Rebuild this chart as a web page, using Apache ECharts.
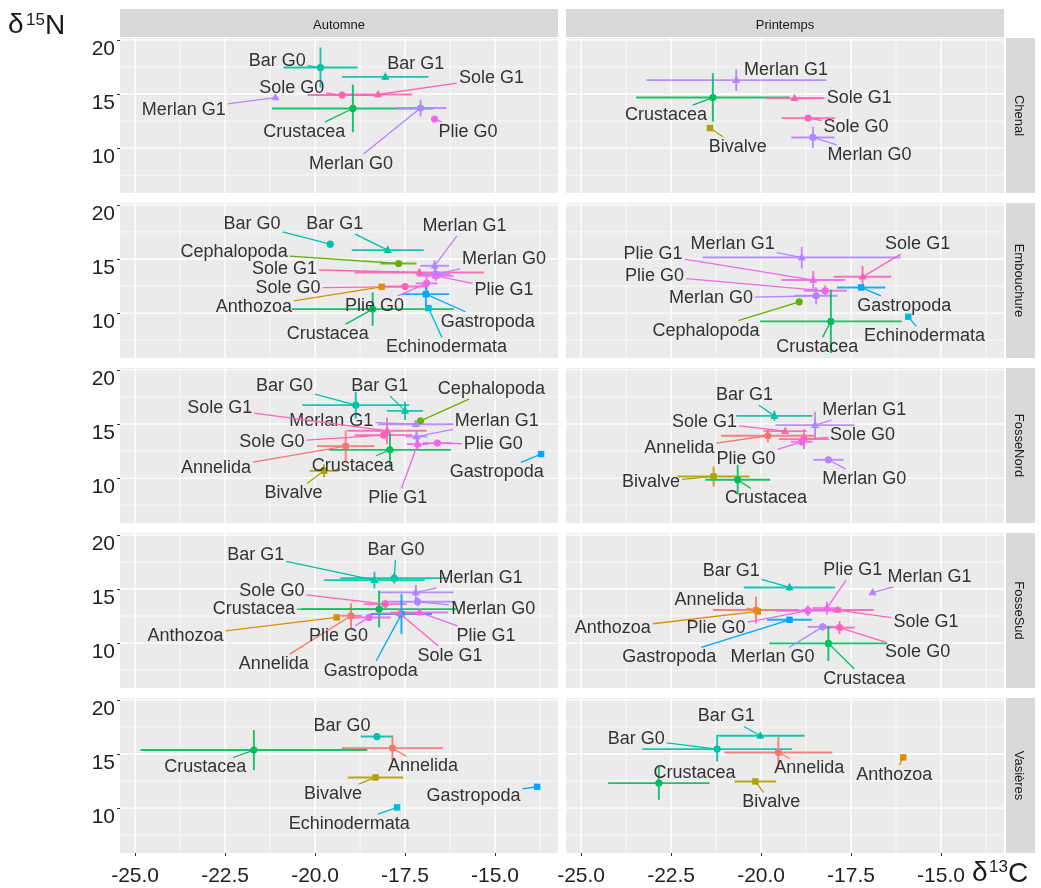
<!DOCTYPE html>
<html>
<head>
<meta charset="utf-8">
<title>δ13C / δ15N par site et saison</title>
<script src="https://cdn.jsdelivr.net/npm/echarts@6/dist/echarts.min.js"></script>
<style>
  html, body { margin: 0; padding: 0; background: #ffffff; }
  #chart { width: 1041px; height: 888px; }
</style>
</head>
<body>
<div id="chart"></div>
<script>
// ---- facets -------------------------------------------------------------
const seasons = ['Automne', 'Printemps'];
const sites = ['Chenal', 'Embouchure', 'FosseNord', 'FosseSud', 'Vasières'];

// ---- axis breaks ---------------------------------------------------------
const xTicks = [-25, -22.5, -20, -17.5, -15];
const xMinorTicks = [-23.75, -21.25, -18.75, -16.25, -13.75];
const yTicks = [10, 15, 20];
const yMinorTicks = [7.5, 12.5, 17.5];

// ---- values: [groupe, δ13C moyen, δ15N moyen, écart-type δ13C, écart-type δ15N]
const chenalAutomne = [
  ['Bar G0', -19.85, 17.44, 1.03, 1.85],
  ['Bar G1', -18.05, 16.58, 1.20, 0.25],
  ['Sole G0', -19.25, 14.90, 0.95, 0.30],
  ['Sole G1', -18.25, 14.95, 0.95, 0.30],
  ['Crustacea', -18.95, 13.66, 2.25, 2.20],
  ['Merlan G0', -17.07, 13.70, 0.72, 0.77],
  ['Merlan G1', -21.10, 14.67, 0, 0],
  ['Plie G0', -16.68, 12.68, 0, 0]
];
const chenalPrintemps = [
  ['Merlan G1', -20.69, 16.28, 2.50, 1.00],
  ['Crustacea', -21.34, 14.67, 2.13, 2.23],
  ['Sole G1', -19.07, 14.60, 0.80, 0.25],
  ['Sole G0', -18.69, 12.77, 0.74, 0.25],
  ['Bivalve', -21.42, 11.85, 0, 0],
  ['Merlan G0', -18.56, 10.98, 0.60, 1.00]
];
const embouchureAutomne = [
  ['Bar G0', -19.58, 16.37, 0, 0],
  ['Bar G1', -17.98, 15.82, 1.00, 0.30],
  ['Cephalopoda', -17.68, 14.58, 0.50, 0.20],
  ['Merlan G1', -16.68, 14.37, 0.40, 0.50],
  ['Merlan G0', -16.65, 13.60, 0.40, 0.60],
  ['Sole G1', -17.10, 13.75, 1.80, 0.30],
  ['Plie G1', -16.65, 13.44, 0.50, 0.40],
  ['Sole G0', -17.50, 12.45, 0.60, 0.30],
  ['Plie G0', -16.90, 12.75, 0.30, 0.80],
  ['Anthozoa', -18.15, 12.43, 0, 0],
  ['Gastropoda', -16.92, 11.75, 0.65, 1.15],
  ['Echinodermata', -16.85, 10.46, 0, 0],
  ['Crustacea', -18.40, 10.37, 2.25, 1.54]
];
const embouchurePrintemps = [
  ['Merlan G1', -18.87, 15.13, 2.75, 1.00],
  ['Plie G1', -18.55, 13.05, 0.88, 0.85],
  ['Plie G0', -18.22, 12.06, 0.60, 0.50],
  ['Merlan G0', -18.47, 11.60, 0.60, 0.80],
  ['Sole G1', -17.18, 13.35, 0.80, 1.00],
  ['Gastropoda', -17.22, 12.37, 0.67, 0.20],
  ['Cephalopoda', -18.94, 11.04, 0, 0],
  ['Crustacea', -18.06, 9.23, 1.97, 2.92],
  ['Echinodermata', -15.91, 9.66, 0, 0]
];
const fosseNordAutomne = [
  ['Bar G0', -18.87, 16.74, 1.48, 1.23],
  ['Bar G1', -17.50, 16.21, 0.50, 0.85],
  ['Cephalopoda', -17.07, 15.29, 0, 0],
  ['Merlan G1', -17.20, 14.98, 1.05, 0.30],
  ['Merlan G1', -17.18, 13.84, 0.30, 0.60],
  ['Sole G1', -18.00, 14.37, 1.10, 1.23],
  ['Sole G0', -18.10, 13.97, 0.80, 0.30],
  ['Annelida', -19.15, 12.95, 0.80, 1.46],
  ['Plie G0', -16.60, 13.23, 0.40, 0.20],
  ['Plie G1', -17.15, 13.14, 0.30, 0.50],
  ['Crustacea', -17.92, 12.61, 1.70, 1.54],
  ['Gastropoda', -13.72, 12.22, 0, 0],
  ['Bivalve', -19.75, 10.67, 0.40, 0.60]
];
const fosseNordPrintemps = [
  ['Bar G1', -19.63, 15.75, 1.06, 0.46],
  ['Merlan G1', -18.50, 14.89, 1.10, 1.23],
  ['Sole G1', -19.33, 14.34, 0.60, 0.23],
  ['Sole G0', -18.81, 13.60, 0.70, 0.92],
  ['Annelida', -19.81, 13.91, 1.30, 0.62],
  ['Plie G0', -18.87, 13.35, 0.30, 0.30],
  ['Merlan G0', -18.13, 11.69, 0.42, 0.20],
  ['Bivalve', -21.32, 10.15, 1.00, 0.92],
  ['Crustacea', -20.65, 9.84, 0.90, 1.38]
];
const fosseSudAutomne = [
  ['Bar G1', -18.35, 15.82, 1.40, 0.77],
  ['Bar G0', -17.80, 16.00, 1.50, 0.50],
  ['Merlan G1', -17.20, 14.68, 1.05, 0.70],
  ['Merlan G0', -17.15, 13.82, 1.00, 0.40],
  ['Sole G0', -18.05, 13.60, 0.60, 0.40],
  ['Crustacea', -18.22, 13.14, 2.15, 1.70],
  ['Plie G1', -17.10, 12.83, 0.80, 0.30],
  ['Annelida', -19.00, 12.52, 0.30, 1.15],
  ['Plie G0', -18.50, 12.37, 0.60, 0.30],
  ['Anthozoa', -19.40, 12.37, 0, 0],
  ['Gastropoda', -17.60, 12.68, 0.85, 1.85],
  ['Sole G1', -17.65, 12.74, 0.70, 0.30]
];
const fosseSudPrintemps = [
  ['Bar G1', -19.21, 15.14, 1.27, 0.30],
  ['Plie G1', -18.17, 13.23, 0.40, 0.60],
  ['Merlan G1', -16.90, 14.67, 0, 0],
  ['Annelida', -20.14, 13.05, 1.20, 1.23],
  ['Anthozoa', -20.09, 12.93, 0, 0],
  ['Sole G1', -17.87, 13.05, 1.00, 0.25],
  ['Plie G0', -18.70, 12.99, 0.90, 0.50],
  ['Gastropoda', -19.21, 12.15, 0.62, 0.20],
  ['Merlan G0', -18.29, 11.50, 0.42, 0.30],
  ['Sole G0', -17.82, 11.43, 0.42, 0.60],
  ['Crustacea', -18.13, 9.97, 1.64, 1.62]
];
const vasieresAutomne = [
  ['Crustacea', -21.70, 15.36, 3.15, 1.85],
  ['Bar G0', -18.28, 16.61, 0.45, 0.30],
  ['Annelida', -17.85, 15.54, 1.40, 1.15],
  ['Bivalve', -18.32, 12.83, 0.77, 0.25],
  ['Gastropoda', -13.83, 11.97, 0, 0],
  ['Echinodermata', -17.72, 10.06, 0, 0]
];
const vasieresPrintemps = [
  ['Bar G1', -20.02, 16.68, 1.23, 0.30],
  ['Bar G0', -21.22, 15.45, 2.08, 1.15],
  ['Annelida', -19.52, 15.14, 1.50, 1.46],
  ['Anthozoa', -16.05, 14.68, 0, 0],
  ['Crustacea', -22.84, 12.31, 1.41, 1.54],
  ['Bivalve', -20.16, 12.46, 0.58, 0]
];

// ---- where each repelled label sits, in axis units (same order as the rows)
const labelSpots = {
  'Chenal/Automne': [[-21.05, 18.06], [-17.2, 17.75], [-20.65, 15.54], [-15.1, 16.46], [-20.3, 11.5], [-19.0, 8.52], [-23.65, 13.54], [-15.75, 11.5]],
  'Chenal/Printemps': [[-19.31, 17.2], [-22.64, 13.05], [-17.27, 14.67], [-17.36, 11.97], [-20.65, 10.12], [-16.99, 9.38]],
  'Embouchure/Automne': [[-21.75, 18.22], [-19.45, 18.22], [-22.25, 15.6], [-15.85, 18.06], [-14.75, 14.98], [-20.85, 14.06], [-14.75, 12.15], [-20.75, 12.31], [-18.35, 10.67], [-21.7, 10.52], [-15.2, 9.2], [-16.35, 6.83], [-19.65, 8.06]],
  'Embouchure/Printemps': [[-20.79, 16.37], [-23.0, 15.45], [-22.96, 13.44], [-21.39, 11.38], [-15.65, 16.37], [-16.02, 10.67], [-21.53, 8.37], [-18.44, 6.83], [-15.46, 7.84]],
  'FosseNord/Automne': [[-20.85, 18.52], [-18.2, 18.52], [-15.1, 18.21], [-19.55, 15.29], [-14.95, 15.29], [-22.65, 16.43], [-21.2, 13.29], [-22.75, 10.89], [-15.05, 13.1], [-17.7, 8.12], [-18.95, 11.14], [-14.95, 10.52], [-20.6, 8.58]],
  'FosseNord/Printemps': [[-20.46, 17.66], [-17.13, 16.28], [-21.57, 15.2], [-17.18, 13.97], [-22.27, 12.73], [-20.42, 11.75], [-17.13, 9.91], [-23.06, 9.6], [-19.86, 8.12]],
  'FosseSud/Automne': [[-21.65, 18.15], [-17.75, 18.59], [-15.4, 16.0], [-15.05, 13.14], [-21.2, 14.83], [-21.7, 13.14], [-15.25, 10.67], [-21.15, 8.06], [-19.35, 10.67], [-23.6, 10.67], [-18.45, 7.44], [-16.25, 8.83]],
  'FosseSud/Printemps': [[-20.83, 16.68], [-17.45, 16.74], [-15.32, 16.12], [-21.43, 13.97], [-24.12, 11.35], [-15.42, 11.9], [-21.25, 11.38], [-22.55, 8.67], [-19.68, 8.67], [-15.65, 9.14], [-17.13, 6.7]],
  'Vasières/Automne': [[-23.05, 13.75], [-19.25, 17.6], [-17.0, 13.84], [-19.5, 11.29], [-15.6, 11.14], [-19.05, 8.52]],
  'Vasières/Printemps': [[-20.97, 18.46], [-23.47, 16.37], [-18.66, 13.66], [-16.3, 13.05], [-21.85, 13.23], [-19.72, 10.52]]
};

const panelRows = {
  'Chenal/Automne': chenalAutomne, 'Chenal/Printemps': chenalPrintemps,
  'Embouchure/Automne': embouchureAutomne, 'Embouchure/Printemps': embouchurePrintemps,
  'FosseNord/Automne': fosseNordAutomne, 'FosseNord/Printemps': fosseNordPrintemps,
  'FosseSud/Automne': fosseSudAutomne, 'FosseSud/Printemps': fosseSudPrintemps,
  'Vasières/Automne': vasieresAutomne, 'Vasières/Printemps': vasieresPrintemps
};

// ---- styling -------------------------------------------------------------
const taxonColors = {
  Annelida: '#F8766D', Anthozoa: '#DB8E00', Bivalve: '#AEA200', Cephalopoda: '#64B200',
  Crustacea: '#00BD5C', Bar: '#00C1A7', Echinodermata: '#00BADE', Gastropoda: '#00A6FF',
  Merlan: '#B385FF', Plie: '#EF67EB', Sole: '#FF63B6'
};
const squareTaxa = new Set(['Anthozoa', 'Bivalve', 'Echinodermata', 'Gastropoda']);
const FONT = '"Liberation Sans", Arial, Helvetica, sans-serif';
const LABEL_SIZE = 18;
const X_MIN = -25.42, X_MAX = -13.25, Y_MIN = 5.85, Y_MAX = 20.17;
const colLeft = [120, 566];
const rowTop = [38, 203, 368, 533, 698];
const PANEL_W = 438, PANEL_H = 155;

const taxonOf = name => name.split(' ')[0];
const colorOf = name => taxonColors[taxonOf(name)] || '#666';

const measureCtx = document.createElement('canvas').getContext('2d');
measureCtx.font = LABEL_SIZE + 'px ' + FONT;
const textWidth = s => measureCtx.measureText(s).width;

// white panel grid, drawn through each panel's own scales
function renderGridLines(params, api) {
  const cs = params.coordSys;
  const children = [];
  const vLine = (v, w) => {
    const px = api.coord([v, 10])[0];
    children.push({ type: 'line', shape: { x1: px, y1: cs.y, x2: px, y2: cs.y + cs.height }, style: { stroke: '#ffffff', lineWidth: w } });
  };
  const hLine = (v, w) => {
    const py = api.coord([-20, v])[1];
    children.push({ type: 'line', shape: { x1: cs.x, y1: py, x2: cs.x + cs.width, y2: py }, style: { stroke: '#ffffff', lineWidth: w } });
  };
  xMinorTicks.forEach(v => vLine(v, 0.7));
  yMinorTicks.forEach(v => hLine(v, 0.7));
  xTicks.forEach(v => vLine(v, 1.4));
  yTicks.forEach(v => hLine(v, 1.4));
  return { type: 'group', children };
}

// horizontal and vertical standard-deviation bars
function makeBarRenderer(rows) {
  return function (params, api) {
    const name = rows[params.dataIndex][0];
    const color = colorOf(name);
    const x = api.value(0), y = api.value(1), sx = api.value(2), sy = api.value(3);
    const children = [];
    if (sx > 0) {
      const a = api.coord([x - sx, y]), b = api.coord([x + sx, y]);
      children.push({ type: 'line', shape: { x1: a[0], y1: a[1], x2: b[0], y2: b[1] }, style: { stroke: color, lineWidth: 1.9, opacity: 0.9 } });
    }
    if (sy > 0) {
      const a = api.coord([x, y - sy]), b = api.coord([x, y + sy]);
      children.push({ type: 'line', shape: { x1: a[0], y1: a[1], x2: b[0], y2: b[1] }, style: { stroke: color, lineWidth: 1.9, opacity: 0.9 } });
    }
    return { type: 'group', children };
  };
}

// mean point: circle (G0 / default), triangle (G1), square (some taxa)
function makePointRenderer(rows) {
  return function (params, api) {
    const name = rows[params.dataIndex][0];
    const color = colorOf(name);
    const c = api.coord([api.value(0), api.value(1)]);
    if (/G1$/.test(name)) {
      return { type: 'polygon', shape: { points: [[c[0], c[1] - 4.6], [c[0] - 4.1, c[1] + 2.8], [c[0] + 4.1, c[1] + 2.8]] }, style: { fill: color } };
    }
    if (squareTaxa.has(taxonOf(name))) {
      return { type: 'rect', shape: { x: c[0] - 3.2, y: c[1] - 3.2, width: 6.4, height: 6.4 }, style: { fill: color } };
    }
    return { type: 'circle', shape: { cx: c[0], cy: c[1], r: 3.6 }, style: { fill: color } };
  };
}

// text label plus a leader segment from the point to the label box
function makeLabelRenderer(rows) {
  return function (params, api) {
    const name = rows[params.dataIndex][0];
    const color = colorOf(name);
    const p = api.coord([api.value(0), api.value(1)]);
    const c = api.coord([api.value(2), api.value(3)]);
    const hw = textWidth(name) / 2 + 2, hh = 10;
    const children = [];
    const dx = p[0] - c[0], dy = p[1] - c[1];
    if (Math.abs(dx) > hw || Math.abs(dy) > hh) {
      const s = Math.min(dx !== 0 ? hw / Math.abs(dx) : Infinity, dy !== 0 ? hh / Math.abs(dy) : Infinity);
      const ex = c[0] + dx * s, ey = c[1] + dy * s;
      if (Math.hypot(p[0] - ex, p[1] - ey) > 7) {
        children.push({ type: 'line', shape: { x1: p[0], y1: p[1], x2: ex, y2: ey }, style: { stroke: color, lineWidth: 1.3 } });
      }
    }
    children.push({
      type: 'text', x: c[0], y: c[1],
      style: { text: name, fill: '#333333', fontSize: LABEL_SIZE, fontFamily: FONT, align: 'center', verticalAlign: 'middle' }
    });
    return { type: 'group', children };
  };
}

// ---- assemble the facet grid ----------------------------------------------
const grids = [], xAxes = [], yAxes = [], series = [], graphics = [];

sites.forEach((site, r) => {
  seasons.forEach((season, c) => {
    const idx = grids.length;
    const key = site + '/' + season;
    const rows = panelRows[key];
    const spots = labelSpots[key];
    const bottom = r === sites.length - 1;
    const left = c === 0;

    grids.push({ left: colLeft[c], top: rowTop[r], width: PANEL_W, height: PANEL_H, show: true, backgroundColor: '#EBEBEB', borderWidth: 0 });

    xAxes.push({
      type: 'value', gridIndex: idx, min: X_MIN, max: X_MAX,
      axisLine: { show: false }, splitLine: { show: false },
      axisTick: { show: bottom, length: 3, customValues: xTicks, lineStyle: { color: '#333333', width: 1 } },
      axisLabel: { show: bottom, customValues: xTicks, formatter: v => v.toFixed(1), fontSize: 21, fontFamily: FONT, color: '#1f1f1f', margin: 13 }
    });
    yAxes.push({
      type: 'value', gridIndex: idx, min: Y_MIN, max: Y_MAX,
      axisLine: { show: false }, splitLine: { show: false },
      axisTick: { show: left, length: 3, customValues: yTicks, lineStyle: { color: '#333333', width: 1 } },
      axisLabel: { show: left, customValues: yTicks, fontSize: 21, fontFamily: FONT, color: '#1f1f1f', margin: 5, verticalAlign: 'top', lineHeight: 18 }
    });

    series.push({ type: 'custom', xAxisIndex: idx, yAxisIndex: idx, z: 1, silent: true, data: [[-20, 12]], renderItem: renderGridLines });
    const values = rows.map(row => ({ name: row[0], value: [row[1], row[2], row[3], row[4]] }));
    series.push({ type: 'custom', xAxisIndex: idx, yAxisIndex: idx, z: 2, silent: true, data: values, renderItem: makeBarRenderer(rows) });
    series.push({ type: 'custom', xAxisIndex: idx, yAxisIndex: idx, z: 3, silent: true, data: values, renderItem: makePointRenderer(rows) });
    series.push({
      type: 'custom', xAxisIndex: idx, yAxisIndex: idx, z: 4, silent: true,
      data: rows.map((row, k) => ({ name: row[0], value: [row[1], row[2], spots[k][0], spots[k][1]] })),
      renderItem: makeLabelRenderer(rows)
    });
  });
});

// facet strips
seasons.forEach((season, c) => {
  graphics.push({ type: 'rect', shape: { x: colLeft[c], y: 9, width: PANEL_W, height: 28 }, style: { fill: '#D9D9D9' }, silent: true });
  graphics.push({ type: 'text', x: colLeft[c] + PANEL_W / 2, y: 25, style: { text: season, fontSize: 13, fontFamily: FONT, fill: '#1A1A1A', align: 'center', verticalAlign: 'middle' }, silent: true });
});
sites.forEach((site, r) => {
  graphics.push({ type: 'rect', shape: { x: 1006, y: rowTop[r], width: 29, height: PANEL_H }, style: { fill: '#D9D9D9' }, silent: true });
  graphics.push({ type: 'text', x: 1019, y: rowTop[r] + PANEL_H / 2, rotation: -Math.PI / 2, style: { text: site, fontSize: 13, fontFamily: FONT, fill: '#1A1A1A', align: 'center', verticalAlign: 'middle' }, silent: true });
});

// axis titles δ15N and δ13C
const titleStyle = (text, size) => ({ text, fontSize: size, fontFamily: FONT, fill: '#1A1A1A', align: 'left', verticalAlign: 'middle' });
graphics.push({ type: 'text', x: 8, y: 25, style: titleStyle('δ', 28), silent: true });
graphics.push({ type: 'text', x: 26, y: 20, style: titleStyle('15', 17), silent: true });
graphics.push({ type: 'text', x: 45, y: 26, style: titleStyle('N', 28), silent: true });
graphics.push({ type: 'text', x: 972, y: 873, style: titleStyle('δ', 28), silent: true });
graphics.push({ type: 'text', x: 989, y: 867, style: titleStyle('13', 17), silent: true });
graphics.push({ type: 'text', x: 1008, y: 874, style: titleStyle('C', 28), silent: true });

const chart = echarts.init(document.getElementById('chart'), null, { renderer: 'canvas' });
chart.setOption({
  backgroundColor: '#ffffff',
  animation: false,
  grid: grids,
  xAxis: xAxes,
  yAxis: yAxes,
  series,
  graphic: graphics
});
</script>
</body>
</html>
